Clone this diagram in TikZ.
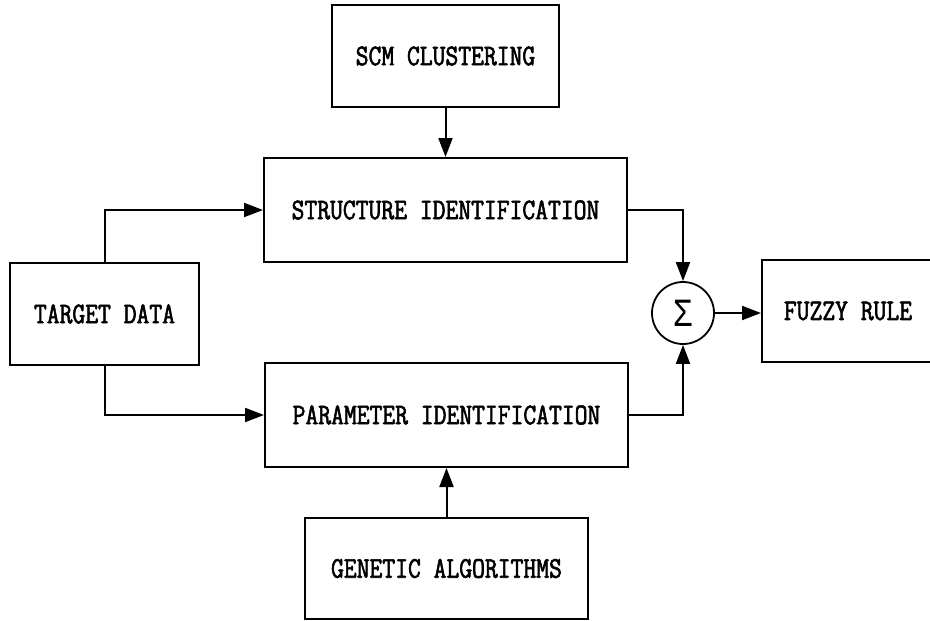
\documentclass[tikz,border=0pt]{standalone}
\usepackage{fontspec}
\newfontfamily\blkfont[FakeStretch=0.83,FakeBold=2]{Latin Modern Mono}
\newfontfamily\sumfont[FakeStretch=0.8]{Liberation Mono}
\usetikzlibrary{positioning,arrows.meta,calc}
\tikzset{
  blk/.style={draw,line width=2pt,inner sep=0pt,align=center,
    font=\blkfont\fontsize{30}{34}\selectfont},
  sumnode/.style={circle,draw,line width=1.8pt,minimum size=62pt,inner sep=0pt,
    font=\sumfont\fontsize{40}{40}\selectfont},
  flow/.style={-{Triangle[length=19pt,width=14pt]},line width=2pt},
}
\begin{document}
\begin{tikzpicture}[x=1pt,y=-1pt]
  \useasboundingbox (0,0) rectangle (930,621);
  % identification blocks in the middle column
  \node[blk,minimum width=227pt,minimum height=102pt] (scm) at (445.5,56) {SCM CLUSTERING};
  \node[blk,minimum width=363pt,minimum height=104pt] (struct) at (445.5,210) {STRUCTURE IDENTIFICATION};
  \node[blk,minimum width=363pt,minimum height=104pt] (param) at (446.5,415) {PARAMETER IDENTIFICATION};
  \node[blk,minimum width=283pt,minimum height=101pt] (ga) at (446.5,568.5) {GENETIC ALGORITHMS};
  % input, summing point and output
  \node[blk,minimum width=189pt,minimum height=102pt] (target) at (104.5,314) {TARGET DATA};
  \node[sumnode] (sum) at (683,313) {Σ};
  \node[blk,minimum width=172pt,minimum height=102pt] (fuzzy) at (848,311) {FUZZY RULE};
  % connectors
  \draw[flow] (scm) -- (struct);
  \draw[flow] (ga) -- (param);
  \draw[flow] (target.north) |- (struct.west);
  \draw[flow] (target.south) |- (param.west);
  \draw[flow] (struct.east) -| (sum.north);
  \draw[flow] (param.east) -| (sum.south);
  \draw[flow] (sum.east) -- (sum.east -| fuzzy.west);
\end{tikzpicture}
\end{document}
